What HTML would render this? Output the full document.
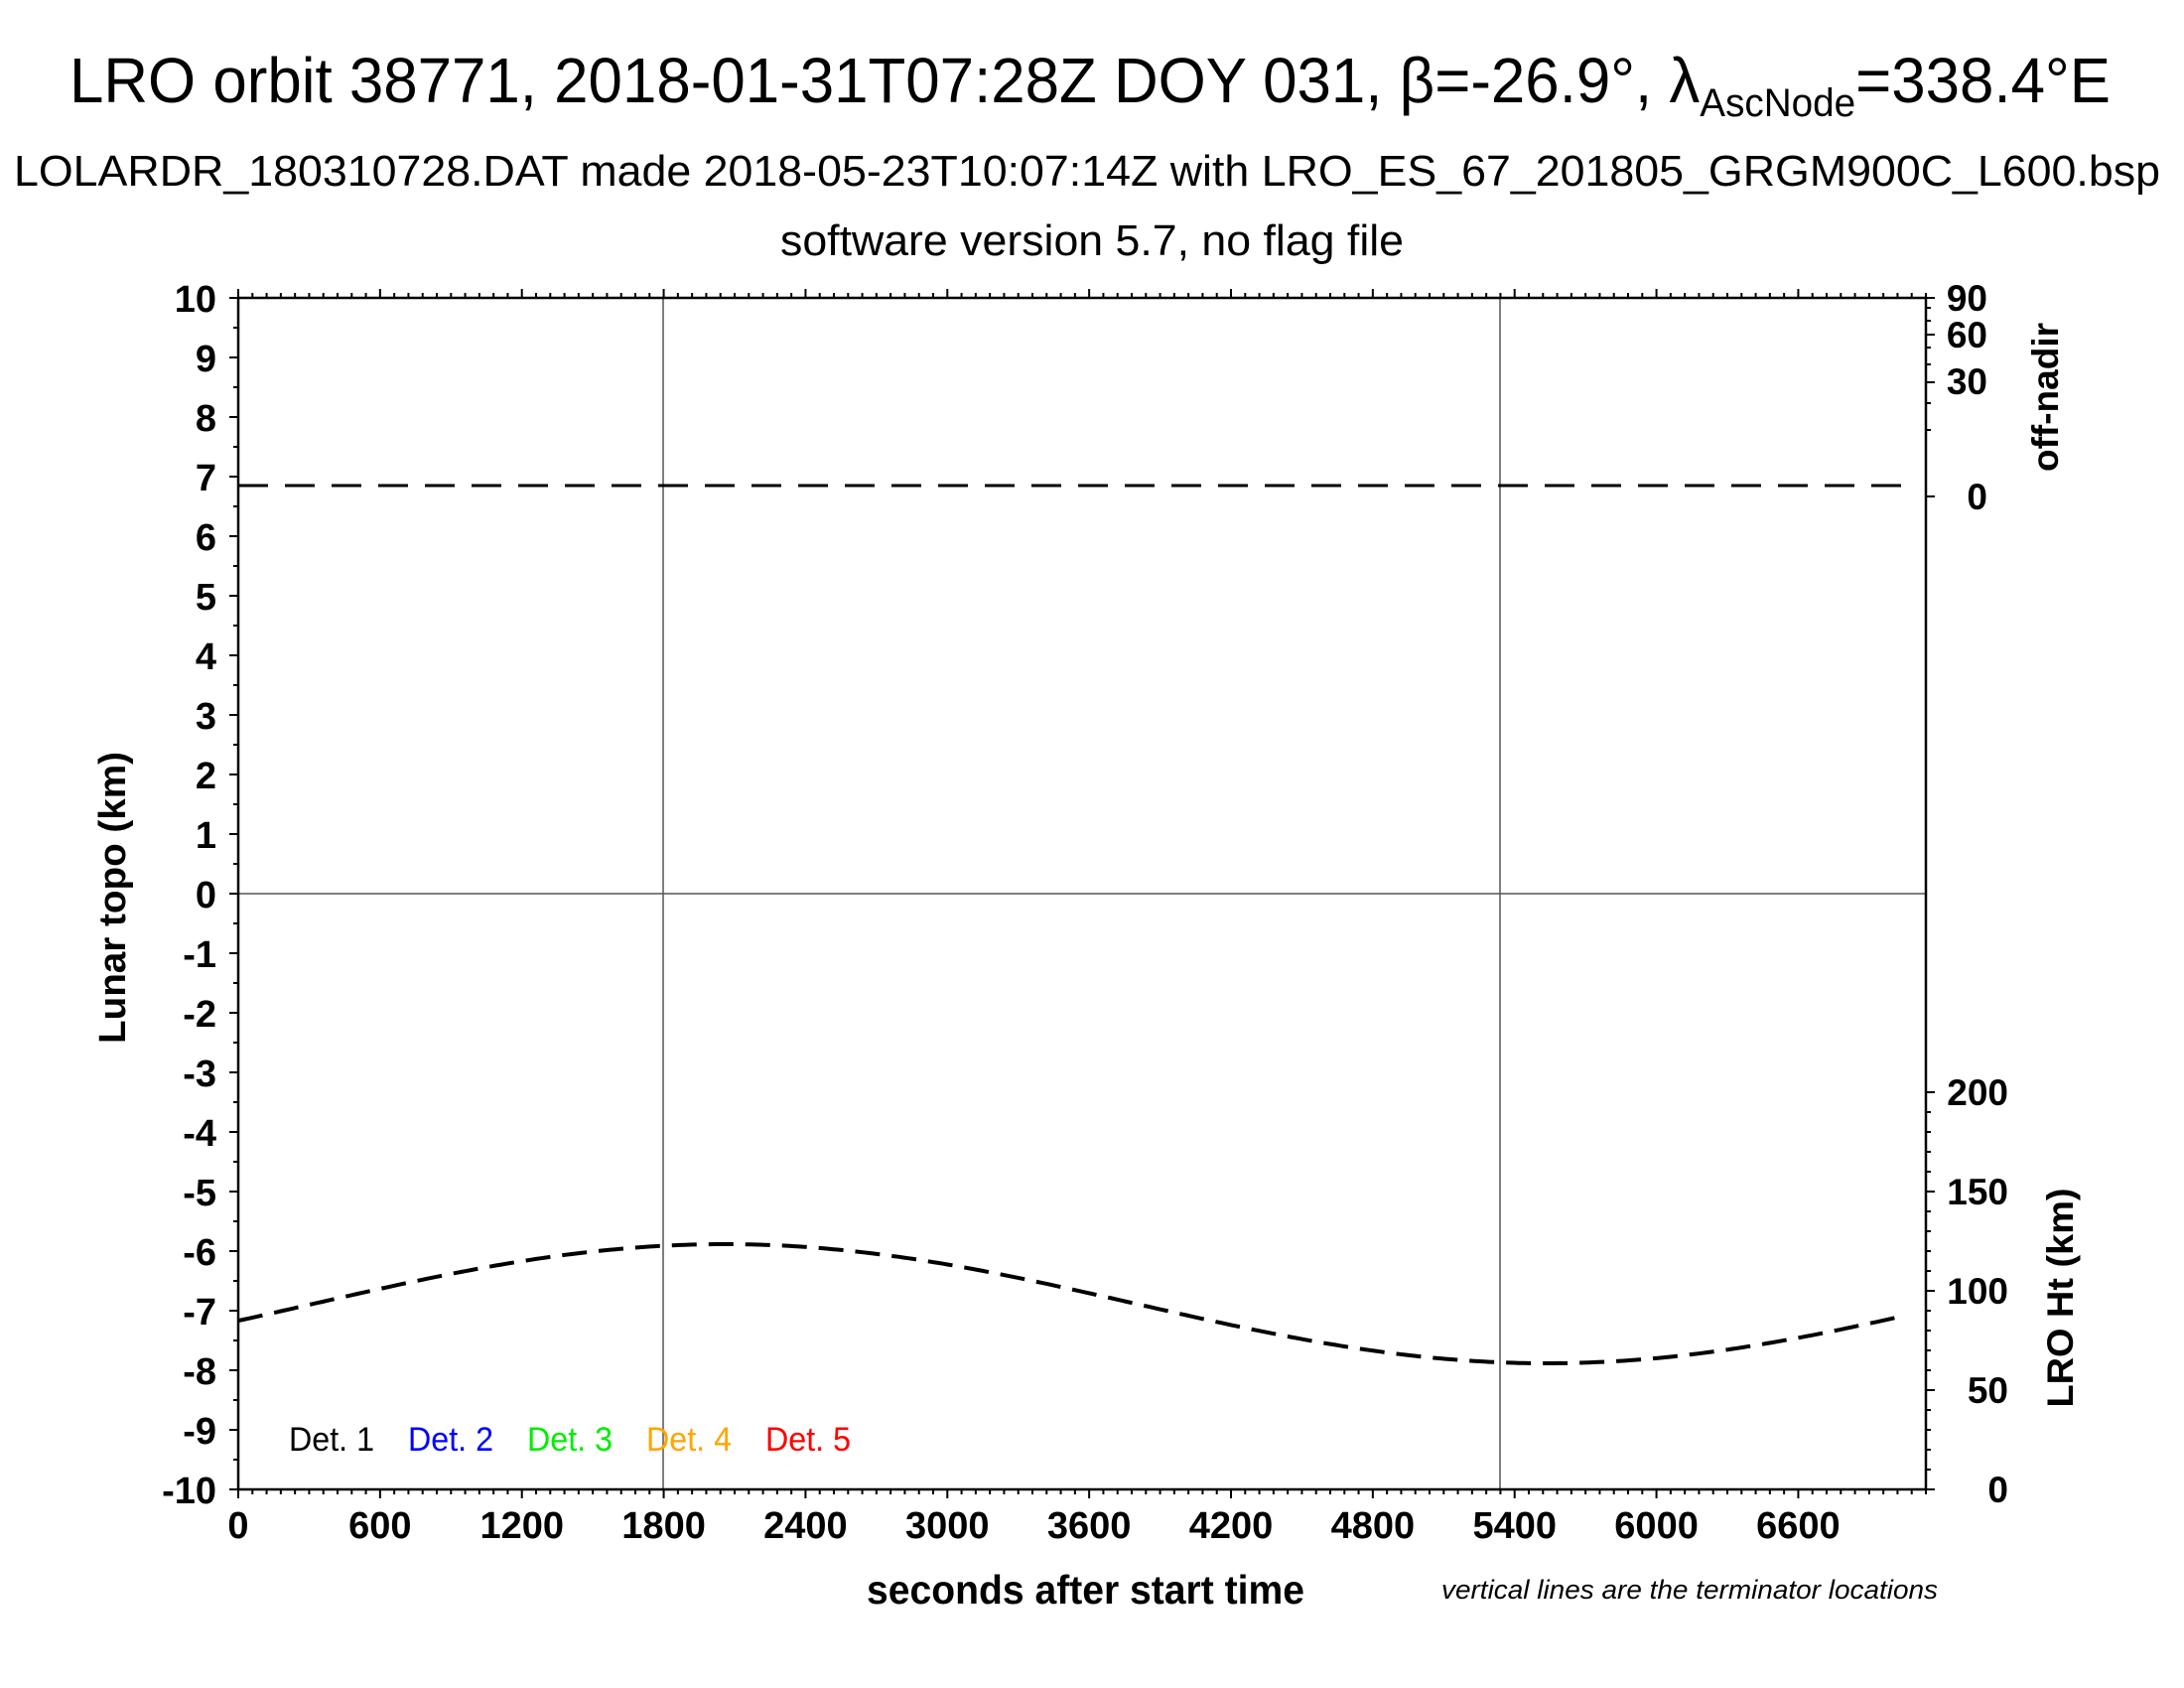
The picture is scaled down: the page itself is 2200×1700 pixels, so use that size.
<!DOCTYPE html>
<html><head><meta charset="utf-8"><style>
html,body{margin:0;padding:0;background:#fff;}
svg{display:block;}
text{font-family:"Liberation Sans",sans-serif;}
.b{font-weight:bold;}
</style></head><body>
<svg id="s" width="2200" height="1700" viewBox="0 0 2200 1700" xmlns="http://www.w3.org/2000/svg">
<rect width="2200" height="1700" fill="#fff"/>
<text x="70" y="103" font-size="64" textLength="2056" lengthAdjust="spacingAndGlyphs">LRO orbit 38771, 2018-01-31T07:28Z DOY 031, β=-26.9°, λ<tspan font-size="40" dy="14">AscNode</tspan><tspan dy="-14">=338.4°E</tspan></text>
<text x="14" y="187" font-size="44" textLength="2162" lengthAdjust="spacingAndGlyphs">LOLARDR_180310728.DAT made 2018-05-23T10:07:14Z with LRO_ES_67_201805_GRGM900C_L600.bsp</text>
<text x="786" y="257" font-size="44" textLength="628" lengthAdjust="spacingAndGlyphs">software version 5.7, no flag file</text>

<g stroke="#555" stroke-width="1.5">
<line x1="240" y1="900" x2="1940" y2="900"/>
<line x1="668" y1="300" x2="668" y2="1500"/>
<line x1="1511" y1="300" x2="1511" y2="1500"/>
</g>
<rect x="240" y="300" width="1700" height="1200" fill="none" stroke="#000" stroke-width="2.5"/>
<g id="ticks" stroke="#000" stroke-width="2"></g>

<line x1="240" y1="489" x2="1917" y2="489" stroke="#000" stroke-width="3" stroke-dasharray="30 17"/>
<path id="curve" fill="none" stroke="#000" stroke-width="4" stroke-dasharray="25 12"/>

<g class="b" font-size="38" text-anchor="end" id="ylab"></g>
<g class="b" font-size="38" text-anchor="middle" id="xlab"></g>
<g class="b" font-size="37" text-anchor="end">
<text x="2002" y="313">90</text><text x="2002" y="350">60</text><text x="2002" y="397">30</text><text x="2002" y="513">0</text>
<text x="2023" y="1113">200</text><text x="2023" y="1213">150</text><text x="2023" y="1313">100</text><text x="2023" y="1413">50</text><text x="2023" y="1513">0</text>
</g>
<text class="b" font-size="38" transform="translate(126,904) rotate(-90)" text-anchor="middle" textLength="294" lengthAdjust="spacingAndGlyphs">Lunar topo (km)</text>
<text class="b" font-size="37" transform="translate(2073,400) rotate(-90)" text-anchor="middle">off-nadir</text>
<text class="b" font-size="37" transform="translate(2088,1307) rotate(-90)" text-anchor="middle" textLength="221" lengthAdjust="spacingAndGlyphs">LRO Ht (km)</text>
<text class="b" x="873" y="1615" font-size="41" textLength="441" lengthAdjust="spacingAndGlyphs">seconds after start time</text>
<text x="1452" y="1610" font-size="27" font-style="italic" textLength="500" lengthAdjust="spacingAndGlyphs">vertical lines are the terminator locations</text>

<g font-size="34">
<text x="291" y="1461" fill="#000" textLength="86" lengthAdjust="spacingAndGlyphs">Det. 1</text>
<text x="411" y="1461" fill="#0000ff" textLength="86" lengthAdjust="spacingAndGlyphs">Det. 2</text>
<text x="531" y="1461" fill="#00ee00" textLength="86" lengthAdjust="spacingAndGlyphs">Det. 3</text>
<text x="651" y="1461" fill="#ffa500" textLength="86" lengthAdjust="spacingAndGlyphs">Det. 4</text>
<text x="771" y="1461" fill="#ff0000" textLength="86" lengthAdjust="spacingAndGlyphs">Det. 5</text>
</g>
</svg>
<script>
var NS="http://www.w3.org/2000/svg";
function el(p,t,a,txt){var e=document.createElementNS(NS,t);for(var k in a)e.setAttribute(k,a[k]);if(txt!==undefined)e.textContent=txt;document.getElementById(p).appendChild(e);return e;}
var px=1700/7140;
for(var s=0;s<=7140;s+=60){var x=240+s*px,L=(s%600==0)?9:5;
 el("ticks","line",{x1:x,y1:300,x2:x,y2:300-L});el("ticks","line",{x1:x,y1:1500,x2:x,y2:1500+L});}
for(var v=-10;v<=10;v+=0.5){var y=300+(10-v)*60,L=(v%1==0)?9:5;el("ticks","line",{x1:240,y1:y,x2:240-L,y2:y});}
for(var h=0;h<=200;h+=10){var y=1500-h*2,L=(h%50==0)?9:5;el("ticks","line",{x1:1940,y1:y,x2:1940+L,y2:y});}
[[300,9],[310,5],[323,5],[337,9],[350,5],[367,5],[385,9],[406,5],[433,5],[500,9]].forEach(function(t){el("ticks","line",{x1:1940,y1:t[0],x2:1940+t[1],y2:t[0]});});
for(var v=10;v>=-10;v--){el("ylab","text",{x:218,y:300+(10-v)*60+14},String(v));}
for(var s=0;s<=6600;s+=600){el("xlab","text",{x:240+s*px,y:1549},String(s));}
var d="";for(var x=240;x<=1917;x+=5){var y=1313-60*Math.cos(2*Math.PI*(x-730)/1656);d+=(x==240?"M":"L")+x+" "+y.toFixed(1);}
document.getElementById("curve").setAttribute("d",d);
</script>
</body></html>
